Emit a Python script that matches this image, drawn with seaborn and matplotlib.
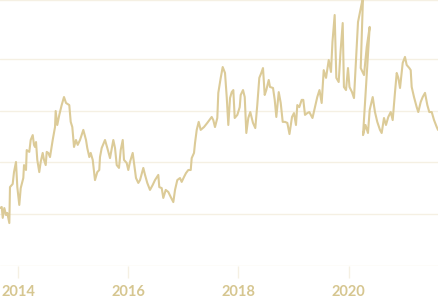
import matplotlib
matplotlib.use("Agg")
import matplotlib.pyplot as plt
import seaborn as sns
import pandas as pd

# decimal year of each observation (in drawing order)
years = [
    2013.668, 2013.699, 2013.717, 2013.746, 2013.777, 2013.800, 2013.837, 2013.849, 2013.898, 2013.922,
    2013.958, 2013.982, 2014.018, 2014.044, 2014.091, 2014.104, 2014.140, 2014.153, 2014.200, 2014.225,
    2014.262, 2014.285, 2014.303, 2014.322, 2014.345, 2014.381, 2014.407, 2014.443, 2014.467, 2014.498,
    2014.516, 2014.545, 2014.576, 2014.625, 2014.667, 2014.679, 2014.708, 2014.745, 2014.788, 2014.830,
    2014.867, 2014.926, 2014.952, 2014.981, 2015.012, 2015.048, 2015.079, 2015.121, 2015.181, 2015.230,
    2015.253, 2015.290, 2015.315, 2015.352, 2015.393, 2015.435, 2015.471, 2015.484, 2015.515, 2015.575,
    2015.617, 2015.666, 2015.726, 2015.757, 2015.788, 2015.829, 2015.860, 2015.897, 2015.920, 2015.969,
    2015.998, 2016.029, 2016.078, 2016.107, 2016.138, 2016.180, 2016.211, 2016.271, 2016.302, 2016.343,
    2016.392, 2016.441, 2016.483, 2016.543, 2016.561, 2016.605, 2016.634, 2016.678, 2016.725, 2016.768,
    2016.816, 2016.847, 2016.888, 2016.937, 2016.968, 2017.010, 2017.046, 2017.088, 2017.132, 2017.150,
    2017.192, 2017.210, 2017.241, 2017.277, 2017.313, 2017.373, 2017.433, 2017.513, 2017.542, 2017.573,
    2017.615, 2017.633, 2017.677, 2017.713, 2017.755, 2017.786, 2017.815, 2017.846, 2017.877, 2017.906,
    2017.931, 2017.979, 2018.022, 2018.040, 2018.082, 2018.113, 2018.142, 2018.178, 2018.214, 2018.263,
    2018.305, 2018.341, 2018.378, 2018.414, 2018.445, 2018.476, 2018.505, 2018.549, 2018.572, 2018.627,
    2018.658, 2018.687, 2018.731, 2018.767, 2018.803, 2018.845, 2018.887, 2018.926, 2018.972, 2019.008,
    2019.044, 2019.068, 2019.104, 2019.148, 2019.177, 2019.208, 2019.250, 2019.286, 2019.344, 2019.390,
    2019.431, 2019.471, 2019.511, 2019.548, 2019.590, 2019.639, 2019.680, 2019.707, 2019.747, 2019.777,
    2019.820, 2019.853, 2019.893, 2019.915, 2019.953, 2019.989, 2020.016, 2020.062, 2020.098, 2020.171,
    2020.262, 2020.220, 2020.280, 2020.329, 2020.383, 2020.262, 2020.307, 2020.352, 2020.383, 2020.438,
    2020.479, 2020.521, 2020.570, 2020.601, 2020.643, 2020.679, 2020.721, 2020.765, 2020.801, 2020.843,
    2020.874, 2020.903, 2020.934, 2020.983, 2021.024, 2021.055, 2021.103, 2021.128, 2021.146, 2021.188,
    2021.237, 2021.266, 2021.310, 2021.346, 2021.388, 2021.430, 2021.466, 2021.510, 2021.552, 2021.601,
    2021.624,
]

values = [
    22.4, 22.8, 18.6, 22.4, 19.7, 20.5, 16.6, 30.5, 31.7, 36.3,
    40.2, 30.5, 23.6, 30.1, 34.0, 39.0, 37.1, 44.8, 44.1, 48.7,
    50.6, 46.8, 46.0, 47.9, 41.0, 36.3, 40.2, 43.7, 41.0, 39.0,
    44.1, 43.7, 42.1, 48.7, 53.7, 59.9, 54.5, 58.4, 62.2, 65.3,
    63.0, 62.2, 55.7, 53.7, 46.0, 48.7, 46.8, 48.7, 52.6, 48.7,
    45.6, 42.1, 43.7, 41.0, 33.2, 36.3, 37.1, 42.1, 45.6, 48.7,
    45.6, 41.7, 48.7, 45.6, 39.0, 37.9, 44.8, 48.7, 41.0, 39.8,
    37.1, 40.2, 43.7, 39.0, 34.0, 32.1, 33.2, 37.9, 35.2, 32.1,
    29.4, 31.3, 33.2, 35.2, 30.5, 30.1, 26.3, 29.4, 28.6, 26.7,
    24.7, 29.4, 33.2, 34.0, 32.5, 34.4, 35.9, 37.1, 37.1, 41.7,
    43.7, 47.5, 52.6, 55.7, 52.6, 53.7, 55.3, 57.6, 56.4, 53.7,
    57.2, 66.9, 72.7, 76.9, 74.6, 65.3, 54.5, 64.9, 67.2, 68.0,
    57.2, 58.4, 61.4, 66.1, 68.0, 65.3, 51.4, 57.2, 59.5, 55.3,
    53.3, 62.2, 72.7, 74.6, 76.5, 66.1, 68.0, 71.9, 69.2, 68.8,
    64.2, 57.6, 67.2, 63.0, 55.7, 55.7, 55.3, 51.0, 57.6, 59.1,
    54.5, 62.2, 61.4, 64.2, 64.2, 58.4, 59.1, 59.5, 57.2, 61.4,
    65.3, 68.0, 63.0, 75.7, 72.7, 79.6, 75.0, 86.6, 97.0, 72.7,
    71.1, 82.7, 93.9, 69.2, 68.0, 76.5, 69.2, 67.2, 64.9, 94.3,
    104.0, 76.5, 73.8, 84.6, 92.4, 50.6, 54.5, 51.4, 60.3, 65.3,
    59.5, 55.7, 52.6, 51.4, 57.2, 54.5, 57.6, 59.5, 56.4, 67.2,
    74.6, 72.7, 68.8, 78.5, 80.8, 77.7, 76.5, 75.7, 69.2, 65.3,
    61.4, 59.5, 63.4, 65.3, 66.9, 62.2, 59.5, 59.5, 56.4, 53.7,
    52.6,
]

tick_years = [2014, 2016, 2018, 2020]
tick_labels = ["2014", "2016", "2018", "2020"]
grid_values = [0, 20, 40, 60, 80]

LINE = "#dccb98"
TEXT = "#d6c690"
GRID = "#f5f0e3"

sns.set_style("white")
plt.rcParams["font.family"] = ["Lato", "DejaVu Sans"]

df = pd.DataFrame({"year": years, "value": values})

fig = plt.figure(figsize=(4.38, 3.0), dpi=100)
ax = fig.add_axes([0.0, 34 / 300, 1.0, 266 / 300])

sns.lineplot(data=df, x="year", y="value", sort=False, estimator=None,
             color=LINE, linewidth=1.5, ax=ax, zorder=3)

ax.set_xlim(2013.6676, 2021.624)
ax.set_ylim(0, 102.8)
ax.set_yticks(grid_values)
ax.set_yticklabels([])
ax.tick_params(axis="y", length=0)
ax.yaxis.grid(True, color=GRID, linewidth=1.0)
ax.xaxis.grid(False)

ax.set_xticks(tick_years)
ax.set_xticklabels(tick_labels)
ax.tick_params(axis="x", length=8.6, width=1.0, color=GRID, labelcolor=TEXT,
               labelsize=10.5, pad=5.0, direction="out", bottom=True)
for lab in ax.get_xticklabels():
    lab.set_fontweight("bold")

for side in ["left", "right", "bottom"]:
    ax.spines[side].set_visible(False)
ax.spines["top"].set_color(GRID)
ax.spines["top"].set_linewidth(1.0)

ax.set_xlabel("")
ax.set_ylabel("")

fig.savefig("out.png", dpi=100)
